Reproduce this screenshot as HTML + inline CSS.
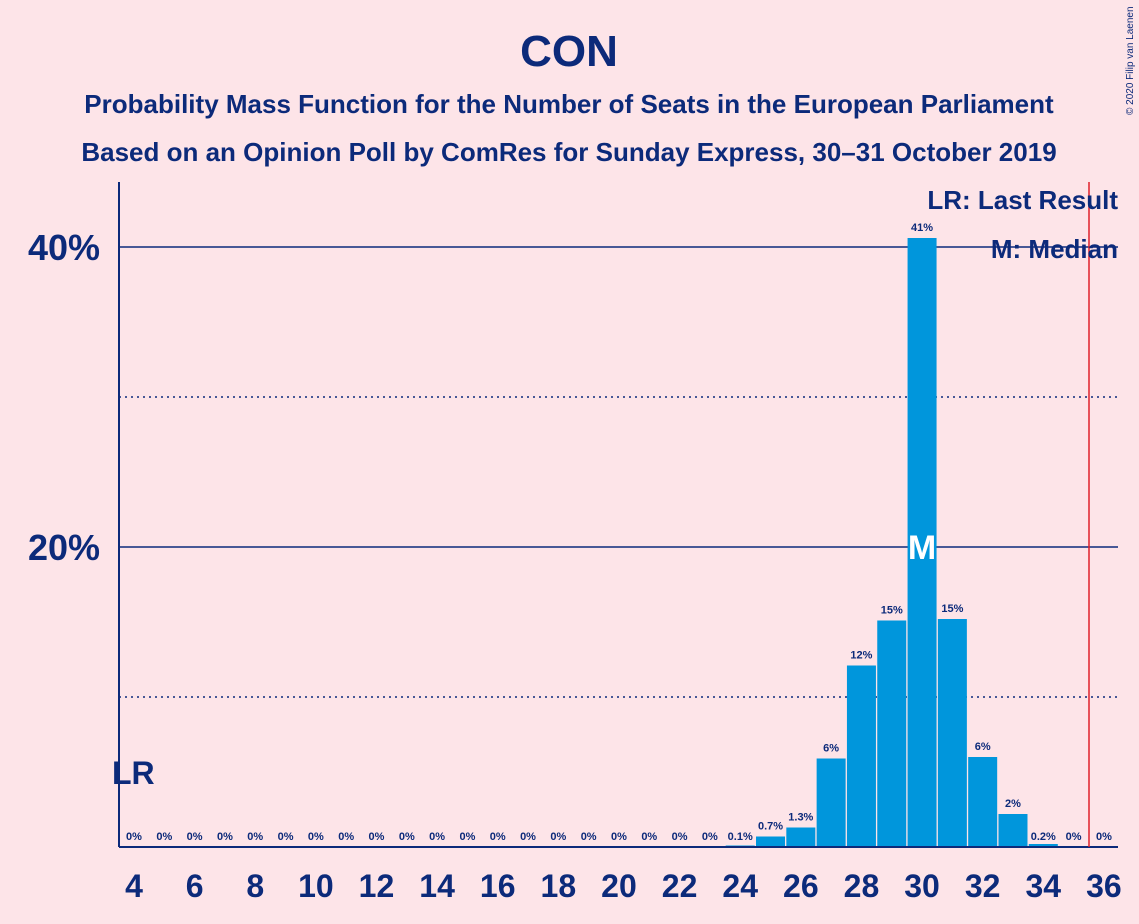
<!DOCTYPE html>
<html><head><meta charset="utf-8"><style>
body{margin:0;background:#fde4e8;font-family:"Liberation Sans",sans-serif}
svg{display:block}
</style></head><body>
<svg width="1139" height="924" id="c">
<rect width="1139" height="924" fill="#fde4e8"/>
<text x="569" y="66" text-anchor="middle" font-size="44" font-weight="bold" fill="#0c2a7a">CON</text>
<text x="569" y="113" text-anchor="middle" font-size="26" font-weight="bold" fill="#0c2a7a">Probability Mass Function for the Number of Seats in the European Parliament</text>
<text x="569" y="161" text-anchor="middle" font-size="26" font-weight="bold" fill="#0c2a7a">Based on an Opinion Poll by ComRes for Sunday Express, 30–31 October 2019</text>
<text x="1133" y="115" font-size="10" fill="#0c2a7a" transform="rotate(-90 1133 115)">© 2020 Filip van Laenen</text>
<g id="grid"></g>
<g id="bars"></g>
<g id="labels"></g>
<line x1="119" y1="182" x2="119" y2="847" stroke="#0c2a7a" stroke-width="2"/>
<line x1="119" y1="847" x2="1118" y2="847" stroke="#0c2a7a" stroke-width="2"/>
<line x1="1089" y1="182" x2="1089" y2="847" stroke="#e0202a" stroke-width="1.5"/>
<text x="1118" y="209" text-anchor="end" font-size="26" font-weight="bold" fill="#0c2a7a">LR: Last Result</text>
<text x="1118" y="258" text-anchor="end" font-size="26" font-weight="bold" fill="#0c2a7a">M: Median</text>
<text x="112" y="784" font-size="32" font-weight="bold" fill="#0c2a7a">LR</text>
</svg>
<script>
const seats=[4,5,6,7,8,9,10,11,12,13,14,15,16,17,18,19,20,21,22,23,24,25,26,27,28,29,30,31,32,33,34,35,36];
const probs=[0,0,0,0,0,0,0,0,0,0,0,0,0,0,0,0,0,0,0,0,0.1,0.7,1.3,6,12,15,41,15,6,2,0.2,0,0];
const values=[0,0,0,0,0,0,0,0,0,0,0,0,0,0,0,0,0,0,0,0,0.1,0.7,1.3,5.9,12.1,15.1,40.6,15.2,6.0,2.2,0.2,0,0];
const labels=["0%","0%","0%","0%","0%","0%","0%","0%","0%","0%","0%","0%","0%","0%","0%","0%","0%","0%","0%","0%","0.1%","0.7%","1.3%","6%","12%","15%","41%","15%","6%","2%","0.2%","0%","0%"];
const yTicks=[10,20,30,40];
const xTickLabels=[4,6,8,10,12,14,16,18,20,22,24,26,28,30,32,34,36];
const medianSeat=30;
const NS="http://www.w3.org/2000/svg";
const X=s=>134+(s-4)*30.31;
const Y=v=>847-v*15;
function mk(t,a,p){const e=document.createElementNS(NS,t);for(const k in a)e.setAttribute(k,a[k]);p.appendChild(e);return e;}
const grid=document.getElementById('grid'),bars=document.getElementById('bars'),lab=document.getElementById('labels');
yTicks.forEach(t=>{
 const solid=t%20===0;
 const l=mk('line',{x1:119,x2:1118,y1:Y(t),y2:Y(t),stroke:'#0c2a7a','stroke-width':solid?1.5:1.5,'stroke-dasharray':solid?'':'2,4'},grid);
 
 
 if(solid){const tx=mk('text',{x:100,y:Y(t)+13,'text-anchor':'end','font-size':36,'font-weight':'bold',fill:'#0c2a7a'},grid);tx.textContent=t+'%';
 
 }
});
seats.forEach((s,i)=>{
 const v=values[i];
 if(v>0){const r=mk('rect',{x:X(s)-14.5,y:Y(v),width:29,height:847-Y(v),fill:'#0096dc'},bars);
 
 }
 const t=mk('text',{x:X(s),y:v>0.5?Y(v)-7:840,'text-anchor':'middle','font-size':11,'font-weight':'bold',fill:'#0c2a7a'},lab);
 t.textContent=labels[i];
 
 
 if(s===medianSeat){const m=mk('text',{x:X(s),y:Y(20)+12,'text-anchor':'middle','font-size':34,'font-weight':'bold',fill:'#fff'},lab);m.textContent='M';
 
 }
});
xTickLabels.forEach(s=>{
 const t=mk('text',{x:X(s),y:897,'text-anchor':'middle','font-size':32,'font-weight':'bold',fill:'#0c2a7a'},lab);
 t.textContent=s;
 
 
});
</script>
</body></html>
